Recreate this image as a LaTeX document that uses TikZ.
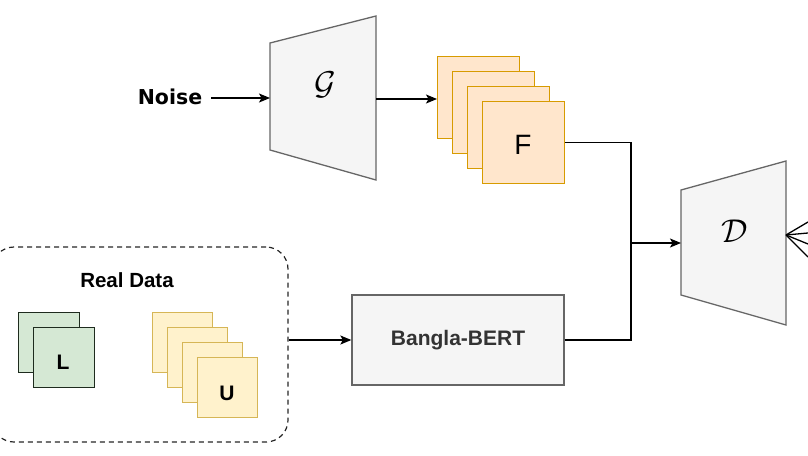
\documentclass[tikz,border=0pt]{standalone}
\usepackage{fix-cm}
\usepackage{fontspec}
\setmainfont{Liberation Sans}
\newfontfamily\verd{DejaVu Sans}
\usetikzlibrary{arrows.meta,calc}
\definecolor{trapfill}{HTML}{F5F5F5}
\definecolor{trapline}{HTML}{666666}
\definecolor{ffill}{HTML}{FFE6CC}
\definecolor{fline}{HTML}{D79B00}
\definecolor{ufill}{HTML}{FFF2CC}
\definecolor{uline}{HTML}{D6B656}
\definecolor{lfill}{HTML}{D5E8D4}
\definecolor{lline}{HTML}{1E2B1E}
\definecolor{txtgray}{HTML}{333333}
\begin{document}
\begin{tikzpicture}[x=1pt,y=-1pt,
  arr/.style={-{Stealth[length=11pt,width=9pt,inset=2.5pt]}, line width=1.4pt},
  conn/.style={line width=1.4pt},
  trap/.style={draw=trapline, fill=trapfill, line width=1.3pt},
  sq/.style={inner sep=0pt, anchor=north west, line width=1.3pt},
  fsq/.style={sq, draw=fline, fill=ffill, minimum width=82pt, minimum height=82pt},
  usq/.style={sq, draw=uline, fill=ufill, minimum width=60pt, minimum height=60pt},
  lsq/.style={sq, draw=lline, fill=lfill, minimum width=61pt, minimum height=60pt},
  boldlbl/.style={font=\bfseries\fontsize{21}{21}\selectfont, inner sep=0pt},
  callbl/.style={font=\fontsize{33}{33}\selectfont, inner sep=0pt}
]
\useasboundingbox (0,0) rectangle (808,455);

% Noise and generator
\node[font=\verd\bfseries\fontsize{20.5}{20.5}\selectfont, inner sep=0pt] (noise) at (170,97) {Noise};
\draw[trap] (270,43) -- (376,16) -- (376,180) -- (270,150) -- cycle;
\node[callbl] (G) at (325,85) {$\mathcal{G}$};
\coordinate (Gin) at (270,98);
\coordinate (Gout) at (376,99);
\draw[arr] ([xshift=9pt]noise.east |- Gin) -- (Gin);

% fake feature stack
\node[fsq] (F1) at (437,56) {};
\node[fsq] (F2) at (452,71) {};
\node[fsq] (F3) at (467,86) {};
\node[fsq] (F) at (482,101) {};
\node[font=\fontsize{28}{28}\selectfont, inner sep=0pt] (Flbl) at (523,145) {F};
\draw[arr] (Gout) -- (Gout -| F1.west);

% real data
\node[draw=black!85, line width=1.2pt, dash pattern=on 5pt off 4pt, rounded corners=22pt,
      minimum width=296pt, minimum height=195pt, inner sep=0pt] (RD) at (140,344.5) {};
\node[font=\bfseries\fontsize{20.5}{20.5}\selectfont, inner sep=0pt] (RDlbl) at (127,280) {Real Data};
\node[lsq] (L1) at (18,312) {};
\node[lsq] (L2) at (33,327) {};
\node[boldlbl] (Llbl) at (63,362) {L};
\node[usq] (U1) at (152,312) {};
\node[usq] (U2) at (167,327) {};
\node[usq] (U3) at (182,342) {};
\node[usq] (U4) at (197,357) {};
\node[boldlbl] (Ulbl) at (227,393) {U};

% Bangla-BERT
\node[draw=trapline, fill=trapfill, line width=1.3pt, minimum width=212pt, minimum height=90pt,
      inner sep=0pt, text=txtgray, font=\bfseries\fontsize{21}{21}\selectfont] (BERT) at (458,340) {Bangla-BERT};
\draw[arr] (RD.east |- BERT.west) -- (BERT.west);

% discriminator
\draw[trap] (681,190) -- (786,161) -- (786,325) -- (681,295) -- cycle;
\node[callbl] (D) at (735,231) {$\mathcal{D}$};
\coordinate (Din) at (681,243);
\coordinate (Dout) at (786,235);
\coordinate (J) at (631,243);
\draw[conn] (F.east) -| (J);
\draw[conn] (BERT.east) -| (J);
\draw[arr] (J) -- (Din);

% outputs leaving the picture
\coordinate (o1) at (808,222);
\coordinate (o2) at (808,233);
\coordinate (o3) at (808,244);
\coordinate (o4) at (808,257);
\foreach \o in {o1,o2,o3,o4} \draw[line width=1.3pt] (Dout) -- (\o);
\end{tikzpicture}
\end{document}
